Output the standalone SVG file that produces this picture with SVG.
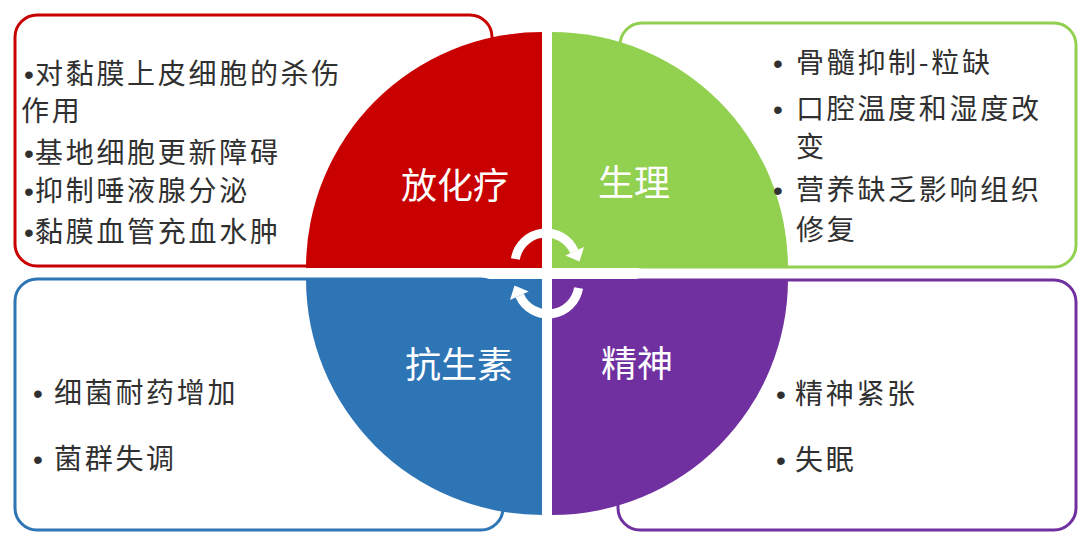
<svg xmlns="http://www.w3.org/2000/svg" xmlns:xlink="http://www.w3.org/1999/xlink" width="1080" height="546" viewBox="0 0 1080 546">
  <style>
    .box { fill: #ffffff; stroke-width: 3; }
    .body { font-family: "Noto Sans CJK SC", "Liberation Sans", sans-serif; font-size: 28px; letter-spacing: 2.7px; fill: #303030; }
    .b { font-family: "Liberation Sans", sans-serif; letter-spacing: 0; }
    .label { font-family: "Noto Sans CJK SC", "Liberation Sans", sans-serif; font-size: 36px; fill: #ffffff; text-anchor: middle; }
    .red { stroke: #C80000; }
    .green { stroke: #92D050; }
    .blue { stroke: #2E75B6; }
    .purple { stroke: #7030A0; }
  </style>
  <rect width="1080" height="546" fill="#ffffff"/>

  <g id="node-radiochemo">
    <rect class="box red" x="15" y="15" width="477" height="251" rx="22"/>
    <path d="M542,268 L306,268 A236,236 0 0 1 542,32 Z" fill="#C80000"/>
    <text class="label" x="455" y="199">放化疗</text>
    <text class="body" x="24" y="84"><tspan class="b">•</tspan><tspan x="35">对黏膜上皮细胞的杀伤</tspan></text>
    <text class="body" x="21" y="121">作用</text>
    <text class="body" x="24" y="163"><tspan class="b">•</tspan><tspan x="35">基地细胞更新障碍</tspan></text>
    <text class="body" x="24" y="201"><tspan class="b">•</tspan><tspan x="35">抑制唾液腺分泌</tspan></text>
    <text class="body" x="24" y="242"><tspan class="b">•</tspan><tspan x="35">黏膜血管充血水肿</tspan></text>
  </g>

  <g id="node-physiology">
    <rect class="box green" x="620" y="23" width="456" height="244" rx="22"/>
    <path d="M552,268 L552,32 A236,236 0 0 1 788,268 Z" fill="#92D050"/>
    <text class="label" x="634" y="196">生理</text>
    <text class="body" x="773" y="73"><tspan class="b">•</tspan><tspan x="796">骨髓抑制-粒缺</tspan></text>
    <text class="body" x="773" y="119"><tspan class="b">•</tspan><tspan x="796">口腔温度和湿度改</tspan></text>
    <text class="body" x="796" y="157">变</text>
    <text class="body" x="773" y="200"><tspan class="b">•</tspan><tspan x="796">营养缺乏影响组织</tspan></text>
    <text class="body" x="796" y="240">修复</text>
  </g>

  <g id="node-antibiotics">
    <rect class="box blue" x="15" y="279" width="488" height="251" rx="22"/>
    <path d="M542,279 L542,515 A236,236 0 0 1 306,279 Z" fill="#2E75B6"/>
    <text class="label" x="459" y="378">抗生素</text>
    <text class="body" x="33" y="403"><tspan class="b">•</tspan><tspan x="54">细菌耐药增加</tspan></text>
    <text class="body" x="33" y="469"><tspan class="b">•</tspan><tspan x="54">菌群失调</tspan></text>
  </g>

  <g id="node-mental">
    <rect class="box purple" x="618" y="280" width="458" height="250" rx="22"/>
    <path d="M552,279 L788,279 A236,236 0 0 1 552,515 Z" fill="#7030A0"/>
    <text class="label" x="637" y="377">精神</text>
    <text class="body" x="776" y="404"><tspan class="b">•</tspan><tspan x="795">精神紧张</tspan></text>
    <text class="body" x="776" y="470"><tspan class="b">•</tspan><tspan x="795">失眠</tspan></text>
  </g>

  <g id="connectors">
    <defs>
      <g id="arrow-top">
        <path d="M515.4,259 A31,31 0 0 1 574.3,251.4" fill="none" stroke="#ffffff" stroke-width="9"/>
        <polygon points="565.3,255.6 584,247 579.5,261.5" fill="#ffffff"/>
      </g>
    </defs>
    <use xlink:href="#arrow-top"/>
    <use xlink:href="#arrow-top" transform="rotate(180 547 273.5)"/>
  </g>
</svg>
